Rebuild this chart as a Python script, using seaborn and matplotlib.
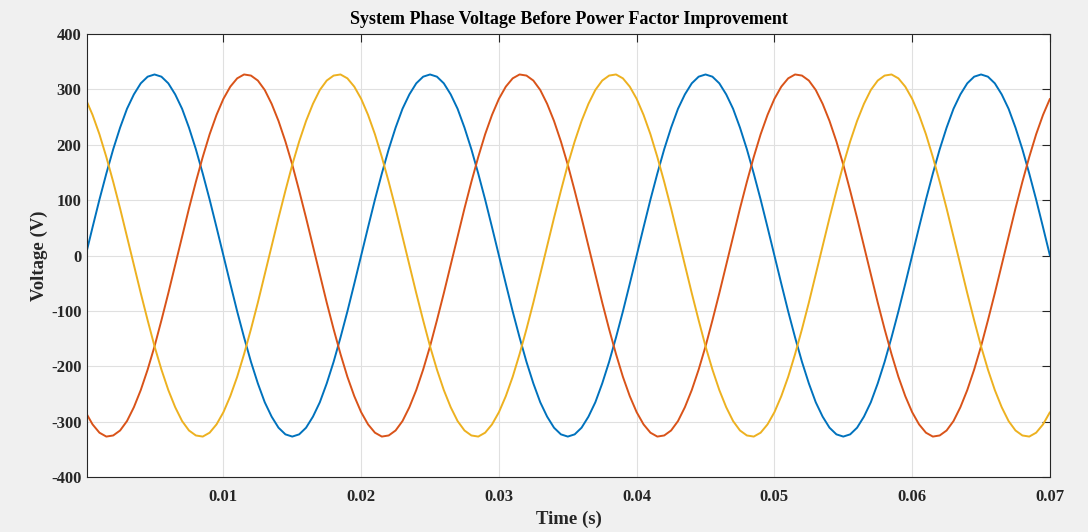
import matplotlib
matplotlib.use("Agg")
import matplotlib.pyplot as plt
import numpy as np
import pandas as pd
import seaborn as sns

# sampled phase voltages (V), one sample every 0.5 ms from 0 to 0.07 s
phase_a = [
    0, 51, 101, 148, 192, 231, 265, 291, 311, 323, 327, 323, 311, 291, 265, 231, 192, 148, 101, 51,
    0, -51, -101, -148, -192, -231, -265, -291, -311, -323, -327, -323, -311, -291, -265, -231, -192, -148, -101, -51,
    0, 51, 101, 148, 192, 231, 265, 291, 311, 323, 327, 323, 311, 291, 265, 231, 192, 148, 101, 51,
    0, -51, -101, -148, -192, -231, -265, -291, -311, -323, -327, -323, -311, -291, -265, -231, -192, -148, -101, -51,
    0, 51, 101, 148, 192, 231, 265, 291, 311, 323, 327, 323, 311, 291, 265, 231, 192, 148, 101, 51,
    0, -51, -101, -148, -192, -231, -265, -291, -311, -323, -327, -323, -311, -291, -265, -231, -192, -148, -101, -51,
    0, 51, 101, 148, 192, 231, 265, 291, 311, 323, 327, 323, 311, 291, 265, 231, 192, 148, 101, 51,
    0,
]
phase_b = [
    -283, -305, -320, -327, -325, -316, -299, -274, -243, -206, -164, -117, -68, -17, 34, 85, 133, 178, 219, 254,
    283, 305, 320, 327, 325, 316, 299, 274, 243, 206, 164, 117, 68, 17, -34, -85, -133, -178, -219, -254,
    -283, -305, -320, -327, -325, -316, -299, -274, -243, -206, -164, -117, -68, -17, 34, 85, 133, 178, 219, 254,
    283, 305, 320, 327, 325, 316, 299, 274, 243, 206, 164, 117, 68, 17, -34, -85, -133, -178, -219, -254,
    -283, -305, -320, -327, -325, -316, -299, -274, -243, -206, -164, -117, -68, -17, 34, 85, 133, 178, 219, 254,
    283, 305, 320, 327, 325, 316, 299, 274, 243, 206, 164, 117, 68, 17, -34, -85, -133, -178, -219, -254,
    -283, -305, -320, -327, -325, -316, -299, -274, -243, -206, -164, -117, -68, -17, 34, 85, 133, 178, 219, 254,
    283,
]
phase_c = [
    283, 254, 219, 178, 133, 85, 34, -17, -68, -117, -164, -206, -243, -274, -299, -316, -325, -327, -320, -305,
    -283, -254, -219, -178, -133, -85, -34, 17, 68, 117, 164, 206, 243, 274, 299, 316, 325, 327, 320, 305,
    283, 254, 219, 178, 133, 85, 34, -17, -68, -117, -164, -206, -243, -274, -299, -316, -325, -327, -320, -305,
    -283, -254, -219, -178, -133, -85, -34, 17, 68, 117, 164, 206, 243, 274, 299, 316, 325, 327, 320, 305,
    283, 254, 219, 178, 133, 85, 34, -17, -68, -117, -164, -206, -243, -274, -299, -316, -325, -327, -320, -305,
    -283, -254, -219, -178, -133, -85, -34, 17, 68, 117, 164, 206, 243, 274, 299, 316, 325, 327, 320, 305,
    283, 254, 219, 178, 133, 85, 34, -17, -68, -117, -164, -206, -243, -274, -299, -316, -325, -327, -320, -305,
    -283,
]
time = np.linspace(0, 0.07, len(phase_a))

phase_names = ['Va', 'Vb', 'Vc']
phase_colors = ['#0072BD', '#D95319', '#EDB120']
x_ticks = [0.01, 0.02, 0.03, 0.04, 0.05, 0.06, 0.07]
y_ticks = [-400, -300, -200, -100, 0, 100, 200, 300, 400]

df = pd.concat([
    pd.DataFrame({'time': time, 'voltage': v, 'phase': name})
    for name, v in zip(phase_names, [phase_a, phase_b, phase_c])
])

sns.set_style('whitegrid')
plt.rcParams['font.family'] = ['Liberation Serif', 'DejaVu Serif']
plt.rcParams['axes.unicode_minus'] = False

fig = plt.figure(figsize=(10.88, 5.32), dpi=100, facecolor='#f0f0f0')
ax = fig.add_axes([0.080, 0.1034, 0.885, 0.8326])
sns.lineplot(data=df, x='time', y='voltage', hue='phase', palette=phase_colors,
             linewidth=1.4, legend=False, ax=ax, estimator=None, sort=False)

ax.set_xlim(0.0001, 0.07)
ax.set_ylim(-400, 400)
ax.set_xticks(x_ticks)
ax.set_xticklabels([f'{t:g}' for t in x_ticks])
ax.set_yticks(y_ticks)
ax.set_yticklabels([str(v) for v in y_ticks])
ax.grid(True, color='#e0e0e0', linewidth=0.8)
for s in ax.spines.values():
    s.set_color('#262626')
    s.set_linewidth(0.8)
ax.tick_params(direction='in', length=6, width=0.8, top=True, right=True,
               labelsize=12, colors='#262626')
ax.tick_params(axis='x', pad=9)
ax.tick_params(axis='y', pad=4)
for lab in ax.get_xticklabels() + ax.get_yticklabels():
    lab.set_fontweight('bold')

ax.set_title('System Phase Voltage Before Power Factor Improvement',
             fontsize=13, fontweight='bold', color='#000000', pad=7)
ax.set_xlabel('Time (s)', fontsize=13.5, fontweight='bold', color='#262626', labelpad=3.5)
ax.set_ylabel('Voltage (V)', fontsize=13.5, fontweight='bold', color='#262626', labelpad=2)

fig.savefig('out.png', dpi=100, facecolor=fig.get_facecolor())
